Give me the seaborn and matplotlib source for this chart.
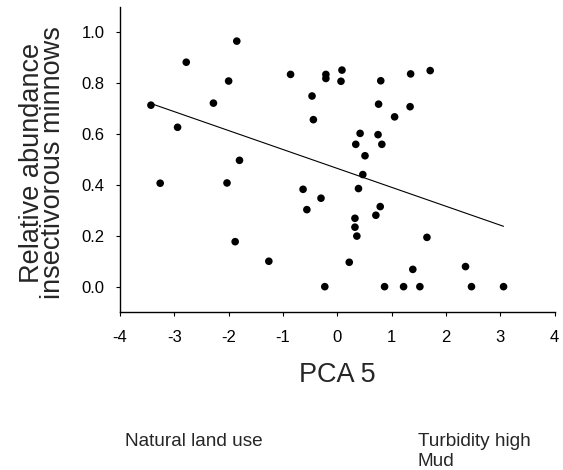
import numpy as np
import pandas as pd
import matplotlib
matplotlib.use("Agg")
import matplotlib.pyplot as plt
import seaborn as sns

# PCA 5 scores and relative abundance of insectivorous minnows
pca5 = [-3.43, -3.26, -2.94, -2.78, -2.28, -2.00, -2.03, -1.88, -1.85, -1.80,
        -1.26, -0.86, -0.63, -0.465, -0.44, -0.56, -0.30, -0.23, -0.21, -0.21,
        0.086, 0.068, 0.80, 1.35, 1.71, 0.76, 1.34, 1.055, 0.42, 0.75,
        0.34, 0.82, 0.51, 0.47, 0.39, 0.79, 0.71, 0.325, 0.325, 0.36,
        1.65, 0.22, 1.39, 2.36, 0.87, 1.22, 1.52, 2.47, 3.06]
abundance = [0.714, 0.407, 0.627, 0.883, 0.722, 0.809, 0.408, 0.177, 0.966, 0.497,
             0.100, 0.835, 0.383, 0.750, 0.657, 0.303, 0.348, 0.0, 0.835, 0.819,
             0.852, 0.808, 0.810, 0.837, 0.850, 0.718, 0.708, 0.668, 0.603, 0.598,
             0.560, 0.560, 0.515, 0.441, 0.386, 0.315, 0.281, 0.269, 0.234, 0.199,
             0.194, 0.096, 0.068, 0.079, 0.0, 0.0, 0.0, 0.0, 0.0]

xticks = [-4, -3, -2, -1, 0, 1, 2, 3, 4]
yticks = [0.0, 0.2, 0.4, 0.6, 0.8, 1.0]

df = pd.DataFrame({'PCA 5': pca5, 'abundance': abundance})

sns.set_style('ticks')
plt.rcParams['font.family'] = ['Liberation Sans', 'DejaVu Sans']

fig = plt.figure(figsize=(5.63, 4.70), dpi=100)
ax = fig.add_axes([0.2131, 0.336, 0.772, 0.649])

sns.regplot(data=df, x='PCA 5', y='abundance', ci=None, ax=ax,
            scatter_kws={'s': 30, 'color': 'black', 'edgecolor': 'none', 'alpha': 1},
            line_kws={'color': 'black', 'lw': 0.8})

ax.set_xlim(-4, 4)
ax.set_ylim(-0.1, 1.1)
ax.set_xticks(xticks)
ax.set_xticklabels([str(t) for t in xticks])
ax.set_yticks(yticks)
ax.set_yticklabels([f'{t:.1f}' for t in yticks])
ax.tick_params(axis='both', direction='out', length=3, width=0.8, colors='black', labelsize=12)
ax.tick_params(axis='y', pad=8)
ax.tick_params(axis='x', pad=10)

for side in ['top', 'right']:
    ax.spines[side].set_visible(False)
for side in ['left', 'bottom']:
    ax.spines[side].set_color('black')
    ax.spines[side].set_linewidth(1.0)

ax.set_xlabel('PCA 5', fontsize=19.5)
ax.xaxis.set_label_coords(0.5, -0.163)
ax.set_ylabel('Relative abundance\ninsectivorous minnows', fontsize=19.5, linespacing=0.75)
ax.yaxis.set_label_coords(-0.125, 0.49)

fig.text(0.222, 1 - 446 / 470, 'Natural land use', fontsize=13.7, ha='left', va='baseline')
fig.text(0.742, 1 - 466 / 470, 'Turbidity high\nMud', fontsize=13.7, ha='left', va='baseline',
         linespacing=1.2)

fig.savefig('out.png', dpi=100)
